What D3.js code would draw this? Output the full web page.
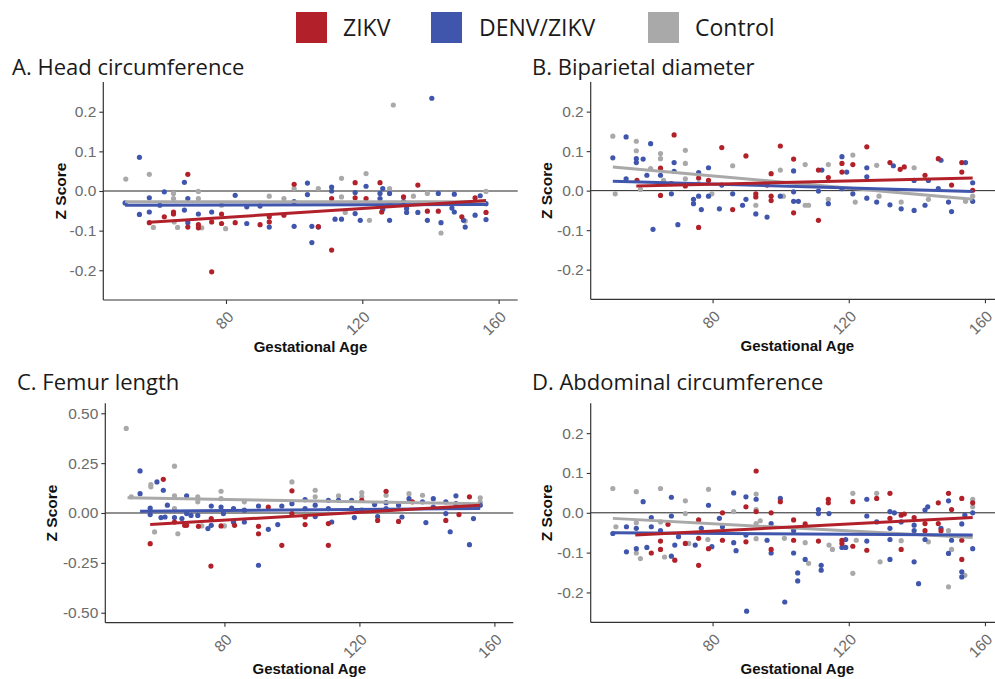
<!DOCTYPE html>
<html>
<head>
<meta charset="utf-8">
<script src="https://cdn.jsdelivr.net/npm/d3@7"></script>
<style>
  body { margin: 0; background: #fff; }
</style>
</head>
<body>
<div id="chart"></div>
<script>
// ---- data: [gestational age, z score] ----
const headZikv = [[57.5,-0.080],[61.9,-0.065],[64.6,-0.053],[64.6,-0.058],[68.8,0.042],[68.8,-0.091],[71.9,-0.085],[71.9,-0.093],[75.8,-0.078],[75.8,-0.204],[78.7,-0.058],[78.7,-0.082],[82.7,-0.080],[90.0,-0.085],[92.7,-0.065],[92.7,-0.078],[97.0,-0.061],[100.0,0.017],[107.1,-0.090],[111.0,-0.019],[111.0,-0.149],[117.9,0.021],[117.9,-0.017],[121.1,-0.019],[125.2,0.021],[125.7,-0.053],[132.1,-0.015],[136.3,0.015],[139.1,-0.051],[142.3,-0.051],[149.2,-0.065],[153.1,-0.017],[156.3,-0.054]];
const headDenv = [[50.4,-0.030],[54.6,0.085],[54.6,-0.059],[57.5,-0.017],[57.5,-0.053],[60.6,-0.036],[61.9,-0.002],[67.8,0.022],[67.8,-0.048],[68.8,-0.019],[68.8,-0.080],[71.9,-0.058],[75.8,-0.053],[82.7,-0.011],[86.1,-0.040],[86.1,-0.082],[90.0,-0.038],[92.7,-0.091],[100.0,-0.027],[100.0,-0.089],[103.9,0.020],[103.9,-0.009],[105.2,-0.089],[105.2,-0.130],[107.1,-0.091],[111.0,0.010],[111.0,0.000],[112.0,-0.071],[113.9,-0.071],[117.9,-0.004],[117.9,-0.057],[119.4,-0.074],[121.1,0.012],[125.2,-0.006],[125.2,-0.019],[126.0,0.006],[126.0,-0.046],[128.0,-0.006],[128.0,-0.074],[132.1,-0.027],[133.0,-0.044],[133.0,-0.054],[136.3,-0.054],[139.1,-0.074],[140.4,0.234],[142.3,-0.006],[143.1,-0.080],[146.3,-0.043],[147.0,-0.008],[147.0,-0.053],[149.7,-0.074],[150.2,-0.091],[153.1,-0.061],[154.6,-0.012],[156.3,-0.032],[156.3,-0.072]];
const headControl = [[50.6,0.030],[57.5,0.042],[58.7,-0.092],[64.6,-0.006],[64.6,-0.019],[64.8,-0.078],[65.8,-0.092],[71.9,-0.001],[71.9,-0.019],[72.9,-0.093],[78.7,-0.036],[79.9,-0.095],[92.7,-0.013],[97.0,-0.019],[100.0,0.006],[107.1,0.006],[113.9,0.032],[113.9,-0.015],[115.0,-0.054],[121.1,0.044],[122.1,-0.074],[128.0,0.006],[128.0,-0.032],[129.1,0.217],[135.0,-0.013],[139.1,-0.006],[143.1,-0.106],[150.2,-0.076],[156.3,-0.001]];
const headFitZikv = [[57.5,-0.079],[156.3,-0.024]];
const headFitDenv = [[50.4,-0.036],[156.3,-0.034]];
const headFitControl = [[50.4,-0.027],[156.3,-0.027]];

const bpdZikv = [[57.8,0.026],[64.7,0.057],[64.7,-0.012],[67.9,0.018],[68.7,0.141],[72.0,0.012],[75.9,0.032],[75.9,-0.093],[78.8,0.026],[82.7,0.109],[85.9,-0.048],[89.8,0.088],[92.7,-0.008],[92.7,-0.016],[96.0,0.014],[97.2,0.043],[97.2,-0.014],[97.2,-0.025],[99.9,0.113],[103.8,0.080],[103.8,-0.056],[111.1,0.052],[111.1,-0.075],[114.0,0.033],[118.0,0.069],[118.0,0.047],[121.2,0.066],[125.3,0.111],[132.1,0.071],[135.1,0.054],[136.3,0.060],[142.4,0.039],[146.3,0.081],[150.2,0.014],[153.2,0.071],[153.2,0.047],[156.4,0.001]];
const bpdDenv = [[50.7,0.083],[54.6,0.136],[54.6,0.030],[57.6,0.081],[57.6,0.071],[59.6,0.080],[60.7,0.039],[61.8,0.119],[62.5,-0.098],[64.7,0.039],[67.9,-0.008],[68.7,0.071],[68.7,0.049],[69.8,-0.086],[74.4,-0.033],[74.4,-0.022],[75.9,0.046],[75.9,-0.014],[76.7,-0.048],[78.8,0.058],[78.8,-0.014],[82.0,-0.046],[82.7,0.014],[85.9,-0.008],[88.8,-0.037],[89.8,-0.022],[92.7,-0.059],[96.0,-0.067],[99.9,-0.014],[103.8,0.050],[103.8,-0.003],[103.8,-0.027],[105.2,-0.027],[111.1,-0.001],[112.1,0.052],[114.0,-0.033],[118.0,0.086],[118.0,0.005],[119.4,0.047],[121.2,-0.008],[125.3,0.058],[125.3,0.035],[125.3,-0.019],[128.2,-0.029],[132.1,-0.036],[133.1,0.063],[135.4,-0.046],[139.2,-0.050],[139.2,0.026],[142.4,-0.037],[143.4,0.026],[146.3,0.005],[147.1,0.077],[149.3,-0.029],[150.2,-0.053],[154.3,0.071],[156.4,0.020],[156.4,-0.027]];
const bpdControl = [[50.7,0.138],[51.4,-0.008],[57.6,0.125],[57.6,0.101],[58.8,0.003],[61.8,0.056],[64.7,0.094],[64.7,0.081],[65.6,0.026],[72.0,0.102],[72.0,0.069],[72.0,0.030],[75.9,0.018],[79.8,-0.008],[85.9,0.063],[92.7,-0.037],[99.9,0.052],[100.8,-0.014],[107.2,0.066],[107.2,-0.037],[108.2,-0.037],[114.0,0.066],[114.0,-0.022],[121.2,0.090],[121.9,-0.029],[128.2,0.064],[128.9,-0.014],[135.4,-0.029],[139.2,0.058],[143.4,-0.022],[154.3,-0.027],[156.4,-0.014]];
const bpdFitZikv = [[57.6,0.012],[156.4,0.032]];
const bpdFitDenv = [[50.7,0.024],[156.4,-0.002]];
const bpdFitControl = [[50.7,0.060],[156.4,-0.022]];

const femurZikv = [[58.0,-0.154],[61.9,0.169],[65.2,-0.045],[68.2,-0.062],[68.8,-0.062],[72.3,-0.067],[76.0,-0.266],[76.1,-0.028],[79.0,-0.065],[83.0,-0.062],[90.1,-0.067],[90.1,-0.104],[93.0,0.030],[97.0,-0.162],[100.0,0.111],[100.0,-0.003],[103.9,-0.020],[103.9,-0.058],[110.8,-0.053],[110.8,-0.162],[120.7,0.064],[125.4,-0.037],[127.9,0.109],[131.6,-0.042],[135.7,0.056],[145.6,-0.037],[149.5,-0.008],[152.6,0.081]];
const femurDenv = [[55.0,0.211],[55.0,0.097],[58.0,0.024],[58.0,-0.008],[60.0,0.156],[61.2,-0.023],[61.9,0.114],[62.4,-0.020],[63.1,0.039],[65.2,-0.023],[67.4,-0.028],[68.8,0.086],[68.8,-0.003],[70.1,-0.012],[72.1,-0.012],[75.1,-0.078],[76.1,0.035],[76.1,-0.062],[79.0,0.030],[79.7,-0.003],[82.7,0.022],[82.7,-0.046],[85.9,0.014],[85.9,-0.045],[90.1,0.035],[90.1,-0.262],[93.0,-0.082],[95.8,-0.058],[97.0,0.035],[100.0,0.047],[103.9,0.067],[103.9,0.022],[106.9,0.039],[106.9,-0.018],[110.8,0.064],[110.8,0.022],[111.8,-0.045],[113.8,0.064],[117.7,0.064],[117.7,0.025],[118.5,-0.023],[120.7,0.014],[124.5,0.042],[125.4,-0.018],[127.9,0.052],[127.9,0.022],[131.6,0.039],[132.6,-0.020],[134.7,0.072],[138.7,0.056],[139.7,-0.048],[141.9,0.072],[141.9,0.030],[145.6,0.056],[145.6,-0.003],[146.9,-0.094],[148.6,0.086],[148.6,0.047],[152.6,0.039],[152.6,-0.159],[153.8,-0.028],[155.8,0.039]];
const femurControl = [[50.9,0.424],[52.4,0.081],[58.2,0.143],[58.2,0.131],[59.3,-0.095],[65.2,0.235],[65.2,0.086],[65.2,0.022],[66.2,-0.104],[72.1,0.081],[72.1,0.056],[73.3,-0.065],[79.0,0.109],[79.0,0.072],[80.0,-0.065],[85.9,0.056],[100.0,0.156],[106.9,0.114],[106.9,0.081],[113.8,0.086],[120.7,0.102],[120.7,0.081],[127.9,0.089],[134.7,0.097],[138.7,0.089],[155.8,0.076],[155.8,0.055]];
const femurFitZikv = [[58.0,-0.058],[155.8,0.039]];
const femurFitDenv = [[55.0,0.009],[155.8,0.022]];
const femurFitControl = [[51.3,0.076],[155.8,0.047]];

const abdZikv = [[62.0,-0.101],[64.7,-0.071],[64.7,-0.092],[66.9,-0.029],[68.9,-0.119],[72.0,-0.077],[75.9,-0.018],[75.9,-0.064],[75.9,-0.132],[78.8,-0.090],[82.9,0.000],[82.9,-0.069],[89.8,0.015],[89.8,-0.073],[92.8,0.105],[92.8,0.003],[97.2,0.000],[97.2,-0.092],[99.9,0.028],[103.8,-0.018],[103.8,-0.069],[107.2,-0.028],[111.1,-0.071],[114.0,0.034],[114.0,0.025],[118.0,-0.069],[118.0,-0.077],[121.2,0.028],[121.2,-0.084],[125.3,-0.094],[128.2,0.036],[132.1,0.049],[132.1,-0.014],[135.4,-0.006],[135.4,-0.092],[136.3,-0.003],[139.2,-0.012],[142.4,-0.027],[142.4,-0.045],[146.3,0.025],[146.3,-0.027],[147.1,-0.045],[149.3,0.049],[150.2,0.008],[153.2,0.036],[153.2,-0.069],[153.2,-0.117],[156.4,0.025]];
const abdDenv = [[50.7,-0.052],[54.7,-0.035],[54.7,-0.098],[57.6,-0.039],[57.6,-0.090],[59.6,0.028],[60.7,-0.087],[62.0,-0.012],[62.0,-0.035],[64.7,-0.045],[67.9,0.039],[67.9,-0.008],[67.9,-0.109],[68.9,-0.081],[70.0,-0.060],[74.9,-0.081],[76.7,-0.039],[78.8,0.019],[79.8,-0.085],[82.0,-0.014],[82.9,-0.035],[86.2,0.050],[86.2,-0.075],[86.9,-0.095],[89.8,0.040],[89.8,-0.056],[90.0,-0.247],[92.8,0.034],[96.0,-0.069],[97.2,-0.027],[97.2,-0.101],[99.9,0.036],[101.2,-0.224],[103.8,-0.045],[103.8,-0.101],[105.0,-0.151],[105.0,-0.171],[107.2,-0.117],[111.1,0.008],[111.1,-0.002],[111.9,-0.144],[111.9,-0.132],[114.2,-0.002],[118.0,-0.087],[119.1,-0.087],[119.1,-0.067],[125.3,0.034],[125.3,-0.008],[125.3,-0.071],[128.2,-0.023],[132.1,0.003],[132.1,-0.039],[132.1,-0.067],[132.1,-0.117],[133.4,0.000],[135.4,-0.023],[139.2,-0.031],[139.2,-0.045],[139.2,-0.123],[140.5,-0.178],[142.4,0.007],[143.2,0.015],[142.4,-0.067],[147.1,-0.039],[149.3,0.030],[149.3,-0.102],[150.2,-0.069],[153.2,-0.028],[153.2,-0.148],[153.2,-0.161],[154.1,-0.006],[156.4,0.000],[156.4,-0.090]];
const abdControl = [[50.7,0.061],[51.6,-0.035],[57.6,0.053],[57.6,-0.025],[57.6,-0.101],[58.8,-0.115],[64.7,0.061],[64.7,-0.023],[65.9,-0.111],[72.0,0.030],[72.0,-0.002],[73.0,-0.077],[78.6,-0.067],[78.8,0.059],[86.2,0.003],[92.8,0.047],[92.8,0.008],[92.8,-0.027],[92.8,-0.065],[94.0,-0.020],[101.1,-0.064],[107.2,-0.075],[108.2,-0.127],[114.2,-0.081],[115.2,-0.092],[121.2,0.049],[121.2,-0.152],[122.2,-0.069],[128.2,0.049],[129.2,-0.123],[135.4,-0.070],[143.4,-0.073],[149.3,-0.045],[149.3,-0.186],[150.2,-0.092],[154.1,-0.157],[156.4,0.034],[156.4,0.015]];
const abdFitZikv = [[57.3,-0.056],[156.4,-0.012]];
const abdFitDenv = [[50.7,-0.050],[156.4,-0.056]];
const abdFitControl = [[50.7,-0.014],[156.4,-0.062]];

const groupNames = ["ZIKV", "DENV/ZIKV", "Control"];
const groupColors = ["#b2212a", "#4056ac", "#a9a9a9"];
const xTickValues = [80, 120, 160];
const smallYTicks = [-0.2, -0.1, 0, 0.1, 0.2];
const femurYTicks = [-0.5, -0.25, 0, 0.25, 0.5];

class ZScorePanel {
    constructor(svg, opts) {
        this.svg = svg;
        this.opts = opts;
    }

    draw() {
        const o = this.opts;
        const g = this.svg.append("g");

        const x = d3.scaleLinear().domain(o.xDomain).range([o.left, o.right]);
        const y = d3.scaleLinear().domain(o.yDomain).range([o.bottom, o.top]);

        // title
        g.append("text")
            .attr("x", o.titleX)
            .attr("y", o.titleY)
            .style("font-family", "'Open Sans'")
            .style("font-size", "22px")
            .style("fill", "#1a1a1a")
            .text(o.title);

        // zero reference line
        g.append("line")
            .attr("x1", o.left).attr("x2", o.right)
            .attr("y1", y(0)).attr("y2", y(0))
            .style("stroke", "#222")
            .style("stroke-width", 1);

        // points: control, then DENV/ZIKV, then ZIKV
        const order = [2, 1, 0];
        order.forEach(i => {
            g.append("g").selectAll("circle")
                .data(o.points[i])
                .enter().append("circle")
                .attr("cx", d => x(d[0]))
                .attr("cy", d => y(d[1]))
                .attr("r", 2.6)
                .style("fill", groupColors[i]);
        });

        const line = d3.line().x(d => x(d[0])).y(d => y(d[1]));
        order.forEach(i => {
            g.append("path")
                .attr("d", line(o.fits[i]))
                .style("fill", "none")
                .style("stroke", groupColors[i])
                .style("stroke-width", 3);
        });

        // axes
        const yAxis = g.append("g")
            .attr("transform", `translate(${o.left},0)`)
            .call(d3.axisLeft(y).tickValues(o.yTicks).tickSize(4).tickPadding(3)
                .tickFormat(d => d.toFixed(o.yDigits)));
        const xAxis = g.append("g")
            .attr("transform", `translate(0,${o.bottom})`)
            .call(d3.axisBottom(x).tickValues(xTickValues).tickSize(4).tickFormat(d3.format("d")));

        [xAxis, yAxis].forEach(ax => {
            ax.select(".domain").remove();
            ax.selectAll(".tick line").style("stroke", "#333").style("stroke-width", 1.1);
            ax.selectAll(".tick text")
                .style("font-family", "'Liberation Sans', Arial")
                .style("font-size", "15.5px")
                .style("fill", "#6b6b6b");
        });

        // plain axis lines spanning the full panel
        g.append("line")
            .attr("x1", o.left).attr("x2", o.left)
            .attr("y1", o.top).attr("y2", o.bottom)
            .style("stroke", "#333").style("stroke-width", 1.2);
        g.append("line")
            .attr("x1", o.left).attr("x2", o.right)
            .attr("y1", o.bottom).attr("y2", o.bottom)
            .style("stroke", "#333").style("stroke-width", 1.2);

        xAxis.selectAll(".tick text")
            .attr("y", null).attr("dy", null)
            .attr("text-anchor", "end")
            .attr("transform", "translate(8,18) rotate(-45)");

        // axis titles
        g.append("text")
            .attr("transform", `translate(${o.left - o.yTitleGap},${(o.top + o.bottom) / 2}) rotate(-90)`)
            .attr("text-anchor", "middle")
            .attr("dy", "0.35em")
            .style("font-family", "'Liberation Sans', Arial")
            .style("font-weight", "bold")
            .style("font-size", "15.5px")
            .style("fill", "#111")
            .text("Z Score");

        g.append("text")
            .attr("x", (o.left + o.right) / 2)
            .attr("y", o.xTitleY)
            .attr("text-anchor", "middle")
            .style("font-family", "'Liberation Sans', Arial")
            .style("font-weight", "bold")
            .style("font-size", "15px")
            .style("fill", "#111")
            .text("Gestational Age");
    }
}

const width = 995, height = 679;
const svg = d3.select("#chart").append("svg")
    .attr("width", width)
    .attr("height", height);

// legend
const legendX = [296, 431, 648];
const legendTextX = [343, 479, 695];
groupNames.forEach((name, i) => {
    svg.append("rect")
        .attr("x", legendX[i]).attr("y", 12)
        .attr("width", 31).attr("height", 31)
        .style("fill", groupColors[i]);
    svg.append("text")
        .attr("x", legendTextX[i]).attr("y", 36)
        .style("font-family", "'Open Sans'")
        .style("font-size", "23px")
        .style("fill", "#1a1a1a")
        .text(name);
});

const panels = [
    { title: "A. Head circumference", titleX: 12, titleY: 75,
      left: 103.3, right: 517.7, top: 82, bottom: 300, xTitleY: 352, yTitleGap: 43,
      xDomain: [44, 165.6], yDomain: [-0.275, 0.275], yTicks: smallYTicks, yDigits: 1,
      points: [headZikv, headDenv, headControl], fits: [headFitZikv, headFitDenv, headFitControl] },
    { title: "B. Biparietal diameter", titleX: 532, titleY: 75,
      left: 590.7, right: 1004, top: 82, bottom: 299.3, xTitleY: 351, yTitleGap: 44,
      xDomain: [44.2, 165.6], yDomain: [-0.275, 0.275], yTicks: smallYTicks, yDigits: 1,
      points: [bpdZikv, bpdDenv, bpdControl], fits: [bpdFitZikv, bpdFitDenv, bpdFitControl] },
    { title: "C. Femur length", titleX: 17, titleY: 389.5,
      left: 105.3, right: 513.3, top: 403.3, bottom: 622.7, xTitleY: 674, yTitleGap: 53.5,
      xDomain: [44.7, 165.6], yDomain: [-0.55, 0.55], yTicks: femurYTicks, yDigits: 2,
      points: [femurZikv, femurDenv, femurControl], fits: [femurFitZikv, femurFitDenv, femurFitControl] },
    { title: "D. Abdominal circumference", titleX: 532, titleY: 389.5,
      left: 590.7, right: 1004, top: 403.3, bottom: 622.3, xTitleY: 674, yTitleGap: 44,
      xDomain: [44.2, 165.6], yDomain: [-0.275, 0.275], yTicks: smallYTicks, yDigits: 1,
      points: [abdZikv, abdDenv, abdControl], fits: [abdFitZikv, abdFitDenv, abdFitControl] }
];

panels.forEach(p => new ZScorePanel(svg, p).draw());
</script>
</body>
</html>
